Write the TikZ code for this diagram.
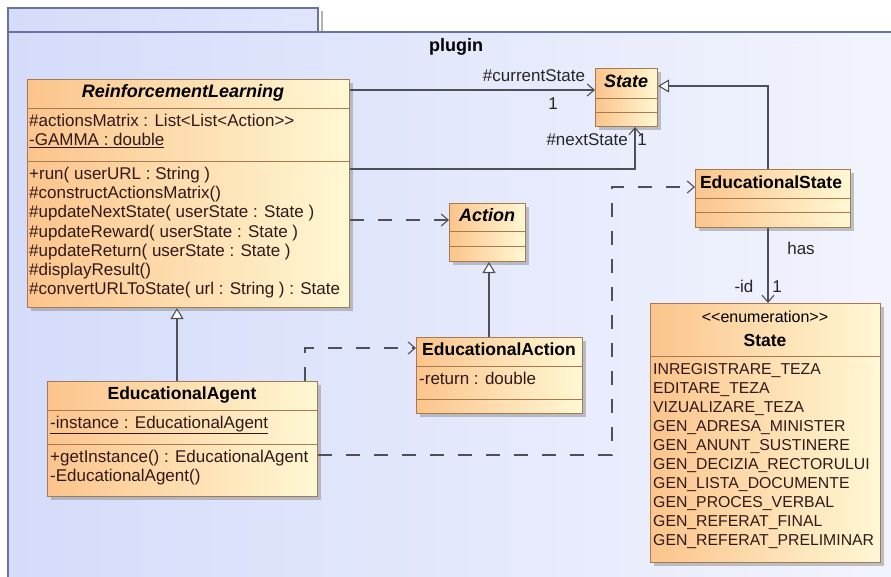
\documentclass[tikz,border=0pt]{standalone}
\usepackage{fontspec}
\setmainfont{Liberation Sans}
\usetikzlibrary{arrows.meta,shadows,calc}
\definecolor{pkgA}{RGB}{212,220,250}
\definecolor{pkgB}{RGB}{242,244,253}
\definecolor{pkgline}{RGB}{105,115,160}
\definecolor{clsA}{RGB}{252,196,140}
\definecolor{clsB}{RGB}{255,248,212}
\definecolor{clsline}{RGB}{165,122,78}
\definecolor{txt}{RGB}{50,25,25}
\definecolor{conn}{RGB}{78,80,88}
\tikzset{
  cls/.style={draw=clsline, line width=1pt, left color=clsA, right color=clsB,
    drop shadow={shadow xshift=3pt, shadow yshift=-3pt, fill=black!45, opacity=0.5},
    inner sep=0pt, anchor=north west},
  sepline/.style={draw=clsline, line width=1pt},
  mem/.style={anchor=west, inner sep=0pt, text=txt, font=\fontsize{17}{19}\selectfont, text height=12pt, text depth=3.5pt},
  lit/.style={mem, font=\fontsize{15.8}{19}\selectfont},
  ttl/.style={anchor=center, inner sep=0pt, text=black, font=\fontsize{17.5}{19}\selectfont\bfseries, text height=12pt, text depth=3.5pt},
  ittl/.style={ttl, font=\fontsize{18}{19}\selectfont\bfseries\itshape},
  lbl/.style={inner sep=0pt, text=black!85, font=\fontsize{17}{19}\selectfont, text height=12pt, text depth=3.5pt},
  conline/.style={draw=conn, line width=1.1pt},
  assoc/.style={conline, -{Straight Barb[length=7pt, width=12pt, line width=1.1pt]}},
  dep/.style={assoc, dash pattern=on 14pt off 14pt},
  gen/.style={conline, -{Triangle[open, length=11pt, width=13pt, fill=white, line width=1.1pt]}},
}
\begin{document}
\begin{tikzpicture}[x=1pt, y=-1pt]
\useasboundingbox (0,0) rectangle (891,576);
% package
\fill[black!30] (321,11) rectangle (323,32);
\shade[left color=pkgA, right color=pkgA!60!pkgB, draw=pkgline, line width=1.2pt] (8,8) rectangle (318,32);
\shade[left color=pkgA, right color=pkgB] (8,32) rectangle (895,580);
\draw[pkgline, line width=1.2pt] (8,580) -- (8,32) -- (895,32);
\node[inner sep=0pt, font=\fontsize{18}{21}\selectfont\bfseries] (pkgname) at (456,47) {plugin};

% ReinforcementLearning
\node[cls, minimum width=322pt, minimum height=228pt] (rl) at (27,79) {};
\draw[sepline] (27,108) -- (349,108);
\draw[sepline] (27,161) -- (349,161);
\node[ittl] (rlt) at (183,93) {ReinforcementLearning};
\node[mem] (rla1) at (29,122) {\#actionsMatrix : List<List<Action>{}>};
\node[mem] (rla2) at (29,141) {\underline{-GAMMA : double}};
\node[mem] (rlo1) at (29,175) {+run( userURL : String )};
\node[mem] (rlo2) at (29,194) {\#constructActionsMatrix()};
\node[mem] (rlo3) at (29,213.5) {\#updateNextState( userState : State )};
\node[mem] (rlo4) at (29,233) {\#updateReward( userState : State )};
\node[mem] (rlo5) at (29,252) {\#updateReturn( userState : State )};
\node[mem] (rlo6) at (29,271) {\#displayResult()};
\node[mem] (rlo7) at (29,290) {\#convertURLToState( url : String ) : State};

% State (abstract)
\node[cls, minimum width=62pt, minimum height=58pt] (st) at (595,68) {};
\draw[sepline] (595,98) -- (657,98);
\draw[sepline] (595,112) -- (657,112);
\node[ittl] (stt) at (626,83) {State};

% EducationalState
\node[cls, minimum width=155pt, minimum height=58pt] (es) at (695,169) {};
\draw[sepline] (695,198) -- (850,198);
\draw[sepline] (695,212) -- (850,212);
\node[ttl] (est) at (771,184) {EducationalState};

% Enumeration State
\node[cls, minimum width=230pt, minimum height=259pt] (en) at (650,303) {};
\draw[sepline] (650,356) -- (880,356);
\node[lbl, text=black, font=\fontsize{16}{19}\selectfont] (ens) at (765,318) {<{}<enumeration>{}>};
\node[ttl] (ent) at (765,342) {State};
\node[lit] (en1) at (653,370) {INREGISTRARE\_TEZA};
\node[lit] (en2) at (653,389) {EDITARE\_TEZA};
\node[lit] (en3) at (653,408) {VIZUALIZARE\_TEZA};
\node[lit] (en4) at (653,427) {GEN\_ADRESA\_MINISTER};
\node[lit] (en5) at (653,446) {GEN\_ANUNT\_SUSTINERE};
\node[lit] (en6) at (653,465) {GEN\_DECIZIA\_RECTORULUI};
\node[lit] (en7) at (653,484) {GEN\_LISTA\_DOCUMENTE};
\node[lit] (en8) at (653,503) {GEN\_PROCES\_VERBAL};
\node[lit] (en9) at (653,522) {GEN\_REFERAT\_FINAL};
\node[lit] (en10) at (653,541) {GEN\_REFERAT\_PRELIMINAR};

% Action
\node[cls, minimum width=76pt, minimum height=58pt] (ac) at (449,203) {};
\draw[sepline] (449,231) -- (525,231);
\draw[sepline] (449,246) -- (525,246);
\node[ittl] (act) at (487,217) {Action};

% EducationalAction
\node[cls, minimum width=166pt, minimum height=76pt] (ea) at (416,337) {};
\draw[sepline] (416,366) -- (582,366);
\draw[sepline] (416,399) -- (582,399);
\node[ttl] (eat) at (499,351) {EducationalAction};
\node[mem] (eaa1) at (419,380) {-return : double};

% EducationalAgent
\node[cls, minimum width=270pt, minimum height=115pt] (ag) at (47,381) {};
\draw[sepline] (47,410) -- (317,410);
\draw[sepline] (47,444) -- (317,444);
\node[ttl] (agt) at (182,395) {EducationalAgent};
\node[mem] (aga1) at (50,424) {\underline{-instance : EducationalAgent}};
\node[mem] (ago1) at (50,458) {+getInstance() : EducationalAgent};
\node[mem] (ago2) at (50,477) {-EducationalAgent()};

% connectors
\draw[assoc] ($(rl.north east)+(0,11)$) -- ($(st.north west)+(0,22)$);
\node[lbl] (l1) at (534,77) {\#currentState};
\node[lbl] (l2) at (553,105) {1};
\draw[assoc] ($(rl.north east)+(0,90)$) -| ($(st.south west)+(40,0)$);
\node[lbl, anchor=east] (l3) at (628,141) {\#nextState};
\node[lbl] (l4) at (642,141) {1};
\draw[gen] ($(es.north west)+(73,0)$) |- ($(st.north east)+(0,18)$);
\draw[assoc] ($(es.south west)+(73,0)$) -- ($(en.north west)+(118,0)$);
\node[lbl] (l5) at (801,250) {has};
\node[lbl] (l6) at (744,288) {-id};
\node[lbl] (l7) at (777,288) {1};
\draw[dep] ($(rl.north east)+(0,141)$) -- ($(ac.north west)+(0,17)$);
\draw[gen] ($(ea.north west)+(73,0)$) -- ($(ac.south west)+(40,0)$);
\draw[gen] ($(ag.north west)+(130,0)$) -- ($(rl.south west)+(150,0)$);
\draw[dep] ($(ag.north east)+(-13,0)$) |- ($(ea.north west)+(0,11)$);
\draw[dep] ($(ag.north east)+(0,74)$) -| ($(es.north west)+(-83,18)$) -- ($(es.north west)+(0,18)$);
\end{tikzpicture}
\end{document}
